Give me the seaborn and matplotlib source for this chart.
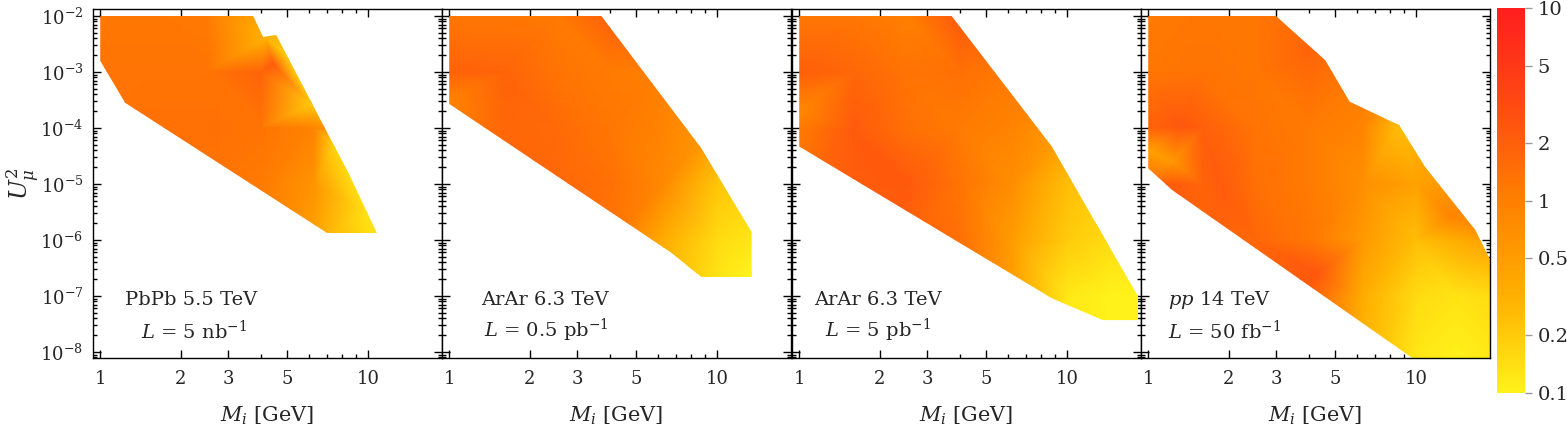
import numpy as np
import matplotlib
matplotlib.use("Agg")
import matplotlib.pyplot as plt
import matplotlib.tri as mtri
from matplotlib.colors import LogNorm
from matplotlib.patches import Polygon
from matplotlib.cm import ScalarMappable
import seaborn as sns

sns.set_style("ticks")
plt.rcParams['font.family'] = ['DejaVu Serif']
plt.rcParams['mathtext.fontset'] = 'dejavuserif'

#############################################################################
# DATOS  (todo en log10: masa M_i [GeV] y mezcla U^2)
#############################################################################

# rejilla de muestreo comun
grid_logm = [0.0, 0.2, 0.4, 0.6, 0.8, 1.0, 1.15, 1.3]
grid_logu = [-2.0, -3.0, -4.0, -5.0, -6.0, -7.0, -8.2]

# --- PbPb 5.5 TeV ---
pbpb_edge_m = [0.0, 0.571, 0.608, 0.657, 0.925, 1.033, 0.847, 0.093, 0.0]
pbpb_edge_u = [-2.0, -2.0, -2.375, -2.34, -4.79, -5.875, -5.875, -3.55, -2.80]
pbpb_grid = [
    [1.2, 1.2, 1.1, 0.4, 0.3, 0.3, 0.3, 0.3],
    [1.3, 1.3, 1.3, 1.8, 0.6, 0.3, 0.3, 0.3],
    [1.3, 1.4, 1.4, 1.3, 0.9, 0.3, 0.3, 0.3],
    [1.4, 1.4, 1.3, 1.1, 0.6, 0.2, 0.2, 0.2],
    [1.2, 1.2, 1.2, 1.0, 0.45, 0.15, 0.12, 0.12],
    [1.2, 1.2, 1.2, 1.0, 0.45, 0.15, 0.12, 0.12],
    [1.2, 1.2, 1.2, 1.0, 0.45, 0.15, 0.12, 0.12],
]
pbpb_pts_m = [0.646, 0.62, 0.70, 0.79, 0.87, 0.925, 1.0]
pbpb_pts_u = [-2.84, -2.40, -2.75, -3.56, -4.30, -4.79, -5.5]
pbpb_pts_v = [2.2, 0.3, 0.2, 0.2, 0.18, 0.15, 0.13]

# --- ArAr 6.3 TeV, 0.5 pb^-1 ---
arar1_edge_m = [0.0, 0.568, 0.941, 1.129, 1.129, 0.941, 0.827, 0.0]
arar1_edge_u = [-2.0, -2.0, -4.36, -5.86, -6.66, -6.66, -6.22, -3.57]
arar1_grid = [
    [1.2, 1.2, 1.1, 2.0, 1.6, 1.2, 1.2, 1.2],
    [1.9, 1.8, 1.3, 1.1, 1.0, 0.9, 0.9, 0.9],
    [1.0, 1.7, 1.6, 1.2, 0.9, 0.5, 0.5, 0.5],
    [1.2, 1.6, 1.7, 1.4, 0.8, 0.22, 0.2, 0.2],
    [1.2, 1.4, 1.5, 1.3, 0.35, 0.15, 0.12, 0.12],
    [1.2, 1.2, 1.2, 1.0, 0.3, 0.12, 0.1, 0.1],
    [1.2, 1.2, 1.2, 1.0, 0.3, 0.12, 0.1, 0.1],
]
arar1_pts_m = [0.0, 1.129]
arar1_pts_u = [-3.5, -6.6]
arar1_pts_v = [0.9, 0.1]

# --- ArAr 6.3 TeV, 5 pb^-1 ---
arar2_edge_m = [0.0, 0.569, 0.943, 1.265, 1.265, 1.133, 0.943, 0.0]
arar2_edge_u = [-2.0, -2.0, -4.33, -7.01, -7.43, -7.43, -7.04, -4.33]
arar2_grid = [
    [1.2, 1.2, 1.0, 2.3, 1.7, 1.2, 1.2, 1.2],
    [2.0, 1.7, 1.3, 1.4, 1.1, 1.0, 1.0, 1.0],
    [1.1, 2.2, 1.4, 1.1, 0.9, 0.5, 0.5, 0.5],
    [1.4, 2.1, 2.3, 1.3, 0.7, 0.25, 0.25, 0.25],
    [1.4, 1.8, 1.9, 1.4, 0.5, 0.2, 0.15, 0.15],
    [1.2, 1.2, 1.4, 1.4, 0.45, 0.12, 0.1, 0.1],
    [1.2, 1.2, 1.2, 1.2, 0.45, 0.12, 0.1, 0.1],
]
arar2_pts_m = [0.0]
arar2_pts_u = [-3.7]
arar2_pts_v = [0.8]

# --- pp 14 TeV ---
pp_edge_m = [0.0, 0.477, 0.661, 0.752, 0.937, 1.033, 1.221, 1.271, 1.286, 1.286, 0.996, 0.09, 0.0]
pp_edge_u = [-2.0, -2.0, -2.79, -3.53, -3.95, -4.69, -5.82, -6.30, -6.39, -8.14, -8.14, -5.11, -4.72]
pp_grid = [
    [1.1, 1.2, 1.2, 1.4, 1.4, 1.2, 1.2, 1.2],
    [1.2, 1.3, 1.2, 1.6, 1.1, 0.8, 0.8, 0.8],
    [1.8, 2.0, 1.3, 1.1, 0.9, 0.3, 0.6, 0.6],
    [1.7, 1.8, 1.4, 1.1, 0.7, 0.45, 0.6, 0.6],
    [1.2, 1.7, 1.7, 1.2, 0.55, 0.25, 0.35, 0.5],
    [1.2, 1.4, 1.7, 2.0, 0.35, 0.15, 0.13, 0.15],
    [1.2, 1.2, 1.2, 1.2, 0.3, 0.12, 0.1, 0.12],
]
pp_pts_m = [0.11, 0.0, 0.09, 0.09, 0.28, 0.634, 0.937, 0.85, 1.13, 0.6]
pp_pts_u = [-3.98, -4.4, -4.6, -5.0, -5.11, -6.59, -3.95, -3.8, -5.58, -2.6]
pp_pts_v = [2.4, 0.45, 0.55, 2.2, 2.2, 2.4, 0.25, 0.7, 0.9, 1.8]

# etiquetas
titulos = ["PbPb 5.5 TeV", "ArAr 6.3 TeV", "ArAr 6.3 TeV", r"$pp$ 14 TeV"]
lumis = [r"$L$ = 5 nb$^{-1}$", r"$L$ = 0.5 pb$^{-1}$", r"$L$ = 5 pb$^{-1}$", r"$L$ = 50 fb$^{-1}$"]

x_major = [1, 2, 3, 5, 10]
x_minor = [4, 6, 7, 8, 9]
y_decades = [-8, -7, -6, -5, -4, -3, -2]
cbar_ticks = [0.1, 0.2, 0.5, 1, 2, 5, 10]

#############################################################################
# GRAFICO
#############################################################################

cmap = sns.blend_palette(["#FFF21A", "#FFB000", "#FF8000", "#FF4A12", "#FF1E1E"], as_cmap=True)
norm = LogNorm(vmin=0.1, vmax=10)

paneles = [
    (pbpb_edge_m, pbpb_edge_u, pbpb_grid, pbpb_pts_m, pbpb_pts_u, pbpb_pts_v),
    (arar1_edge_m, arar1_edge_u, arar1_grid, arar1_pts_m, arar1_pts_u, arar1_pts_v),
    (arar2_edge_m, arar2_edge_u, arar2_grid, arar2_pts_m, arar2_pts_u, arar2_pts_v),
    (pp_edge_m, pp_edge_u, pp_grid, pp_pts_m, pp_pts_u, pp_pts_v),
]

# posicion del texto (fraccion de ejes)
txt_x1 = [0.092, 0.111, 0.063, 0.077]
txt_x2 = [0.137, 0.120, 0.095, 0.077]

W, H = 1567, 430
fig = plt.figure(figsize=(W / 100, H / 100), dpi=100)
lefts = [93, 442, 792, 1141]

# una decada en x ocupa ~4.8 veces mas que en y (para triangular en "pixeles")
aspecto = 4.8

# ticks menores del eje y (2..9 x 10^d)
y_minor = [np.log10(k) + d for d in range(-9, -1) for k in range(2, 10)]

for i, (em, eu, grid, pm, pu, pv) in enumerate(paneles):
    ax = fig.add_axes([lefts[i] / W, 72 / H, 349 / W, 349 / H])

    # ejes lineales en log10 (gouraud no funciona con escala log)
    gm, gu = np.meshgrid(grid_logm, grid_logu)
    lm = np.concatenate([gm.ravel(), pm])
    lu = np.concatenate([gu.ravel(), pu])
    vv = np.concatenate([np.ravel(grid), pv])
    tri_px = mtri.Triangulation(lm * aspecto, lu)
    tri = mtri.Triangulation(lm, lu, tri_px.triangles)
    mesh = ax.tripcolor(tri, vv, shading='gouraud', cmap=cmap, norm=norm)
    clip = Polygon(np.column_stack([em, eu]), closed=True,
                   transform=ax.transData, fc='none', ec='none')
    mesh.set_clip_path(clip)

    ax.set_xlim(-0.027, 1.276)
    ax.set_xticks(np.log10(x_major))
    ax.set_xticklabels([str(v) for v in x_major])
    ax.set_xticks(np.log10(x_minor), minor=True)
    ax.set_yticks(y_decades)
    ax.set_yticklabels([rf"$10^{{{d}}}$" for d in y_decades])
    ax.set_yticks(y_minor, minor=True)
    ax.set_ylim(-8.107, -1.875)

    ax.tick_params(which='both', direction='in', top=True, right=True, width=1, color='black')
    ax.tick_params(which='major', length=6, labelsize=13, pad=9)
    ax.tick_params(which='minor', length=3)
    ax.tick_params(axis='y', which='major', pad=7)
    if i > 0:
        ax.tick_params(axis='y', labelleft=False)
    for s in ax.spines.values():
        s.set_linewidth(1)
        s.set_color('black')

    ax.set_xlabel(r"$M_i$ [GeV]", fontsize=15, labelpad=12)
    ax.text(txt_x1[i], 0.166, titulos[i], transform=ax.transAxes, fontsize=14, va='center')
    ax.text(txt_x2[i], 0.078, lumis[i], transform=ax.transAxes, fontsize=14, va='center')

    if i == 0:
        ax.set_ylabel(r"$U^2_\mu$", fontsize=17)
        ax.yaxis.set_label_coords(-0.15, 0.5)

# barra de color
cax = fig.add_axes([1497 / W, 37 / H, 28 / W, 385 / H])
cb = fig.colorbar(ScalarMappable(norm=norm, cmap=cmap), cax=cax)
cb.minorticks_off()
cb.set_ticks(cbar_ticks)
cb.set_ticklabels([f"{v:g}" for v in cbar_ticks])
cb.outline.set_visible(False)
cax.tick_params(length=5, width=1, color='#999999', labelsize=14, pad=4)

fig.savefig("out.png", dpi=100)
